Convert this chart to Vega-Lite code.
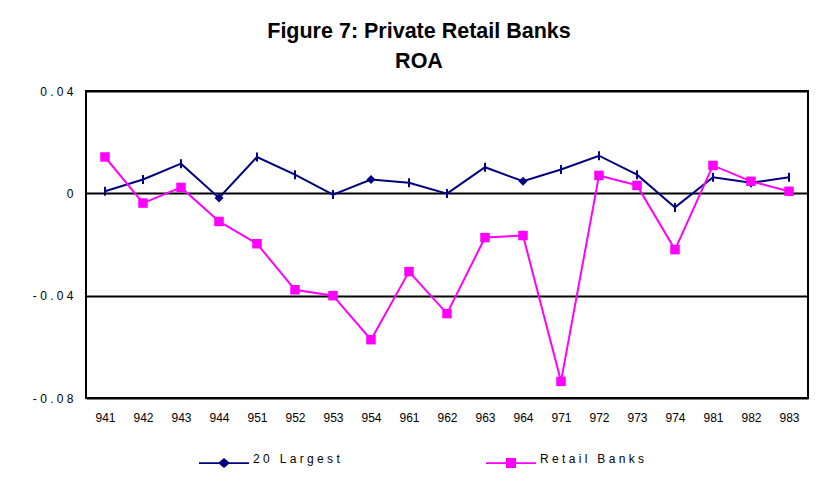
{
  "$schema": "https://vega.github.io/schema/vega-lite/v6.json",
  "width": 722,
  "height": 307,
  "autosize": "none",
  "padding": {"left": 86, "top": 91, "right": 14, "bottom": 87},
  "background": "white",
  "config": {
    "view": {"stroke": "black", "strokeWidth": 2},
    "font": "Liberation Sans"
  },
  "title": {
    "text": ["Figure 7: Private Retail Banks", "ROA"],
    "anchor": "middle",
    "frame": "group",
    "dx": -28,
    "fontSize": 21.5,
    "fontWeight": "bold",
    "font": "Liberation Sans",
    "lineHeight": 30,
    "offset": 13,
    "color": "black"
  },
  "data": {
    "values": [
      {"q": "941", "series": "20 Largest", "roa": 0.0008},
      {"q": "942", "series": "20 Largest", "roa": 0.0054},
      {"q": "943", "series": "20 Largest", "roa": 0.0116},
      {"q": "944", "series": "20 Largest", "roa": -0.0018},
      {"q": "951", "series": "20 Largest", "roa": 0.0142},
      {"q": "952", "series": "20 Largest", "roa": 0.0073},
      {"q": "953", "series": "20 Largest", "roa": -0.0005},
      {"q": "954", "series": "20 Largest", "roa": 0.0054},
      {"q": "961", "series": "20 Largest", "roa": 0.0041},
      {"q": "962", "series": "20 Largest", "roa": -0.0001},
      {"q": "963", "series": "20 Largest", "roa": 0.0102},
      {"q": "964", "series": "20 Largest", "roa": 0.0047},
      {"q": "971", "series": "20 Largest", "roa": 0.0093},
      {"q": "972", "series": "20 Largest", "roa": 0.0147},
      {"q": "973", "series": "20 Largest", "roa": 0.0073},
      {"q": "974", "series": "20 Largest", "roa": -0.0055},
      {"q": "981", "series": "20 Largest", "roa": 0.0063},
      {"q": "982", "series": "20 Largest", "roa": 0.0041},
      {"q": "983", "series": "20 Largest", "roa": 0.0063},
      {"q": "941", "series": "Retail Banks", "roa": 0.0142},
      {"q": "942", "series": "Retail Banks", "roa": -0.0038},
      {"q": "943", "series": "Retail Banks", "roa": 0.0023},
      {"q": "944", "series": "Retail Banks", "roa": -0.011},
      {"q": "951", "series": "Retail Banks", "roa": -0.0197},
      {"q": "952", "series": "Retail Banks", "roa": -0.0377},
      {"q": "953", "series": "Retail Banks", "roa": -0.040},
      {"q": "954", "series": "Retail Banks", "roa": -0.0572},
      {"q": "961", "series": "Retail Banks", "roa": -0.0306},
      {"q": "962", "series": "Retail Banks", "roa": -0.047},
      {"q": "963", "series": "Retail Banks", "roa": -0.0173},
      {"q": "964", "series": "Retail Banks", "roa": -0.0165},
      {"q": "971", "series": "Retail Banks", "roa": -0.0735},
      {"q": "972", "series": "Retail Banks", "roa": 0.0070},
      {"q": "973", "series": "Retail Banks", "roa": 0.0031},
      {"q": "974", "series": "Retail Banks", "roa": -0.022},
      {"q": "981", "series": "Retail Banks", "roa": 0.0109},
      {"q": "982", "series": "Retail Banks", "roa": 0.0047},
      {"q": "983", "series": "Retail Banks", "roa": 0.0008}
    ]
  },
  "encoding": {
    "x": {
      "field": "q",
      "type": "ordinal",
      "sort": null,
      "scale": {"type": "point", "padding": 0.5},
      "axis": {
        "title": null,
        "ticks": false,
        "domain": false,
        "grid": false,
        "labelAngle": 0,
        "labelPadding": 14,
        "labelFont": "Liberation Sans",
        "labelFontSize": 12,
        "labelColor": "black"
      }
    },
    "y": {
      "field": "roa",
      "type": "quantitative",
      "scale": {"domain": [-0.08, 0.04], "nice": false, "zero": false},
      "axis": {
        "title": null,
        "values": [-0.08, -0.04, 0, 0.04],
        "ticks": false,
        "domain": false,
        "grid": true,
        "gridColor": "black",
        "gridWidth": 2,
        "gridOpacity": 1,
        "labelPadding": 13,
        "labelFont": "Liberation Sans",
        "labelFontSize": 12,
        "labelColor": "black",
        "labelExpr": "datum.value == 0 ? '0' : (datum.value < 0 ? '- ' : '') + join(split(format(abs(datum.value), '.2f'), ''), ' ')"
      }
    }
  },
  "layer": [
    {
      "mark": {"type": "line", "strokeWidth": 2},
      "encoding": {
        "color": {
          "field": "series",
          "type": "nominal",
          "scale": {"domain": ["20 Largest", "Retail Banks"], "range": ["#000080", "#FF00FF"]},
          "legend": {
            "title": null,
            "orient": "none",
            "legendX": 113,
            "legendY": 347,
            "direction": "horizontal",
            "columnPadding": 146,
            "symbolSize": 2500,
            "labelFont": "Liberation Sans",
            "labelFontSize": 12,
            "labelColor": "black",
            "labelOffset": 4,
            "labelLimit": 300,
            "labelBaseline": "alphabetic",
            "labelExpr": "join(split(datum.label, ''), '\u00a0')",
            "encode": {
              "symbols": {
                "update": {
                  "shape": {"signal": "datum.value == '20 Largest' ? 'M-1,-0.035H1V0.035H-1Z M0,-0.2L0.24,0L0,0.2L-0.24,0Z' : 'M-1,-0.035H1V0.035H-1Z M-0.2,-0.2H0.2V0.2H-0.2Z'"},
                  "fill": {"scale": "color", "field": "value"},
                  "stroke": {"value": "transparent"},
                  "strokeWidth": {"value": 0},
                  "opacity": {"value": 1}
                }
              }
            }
          }
        }
      }
    },
    {
      "transform": [{"filter": "datum.series == '20 Largest' && indexof(['944','954','964'], datum.q) < 0"}],
      "mark": {"type": "point", "shape": "M0,-1V1", "size": 81, "stroke": "#000080", "strokeWidth": 2, "filled": false, "opacity": 1}
    },
    {
      "transform": [{"filter": "datum.series == '20 Largest' && indexof(['944','954','964'], datum.q) >= 0"}],
      "mark": {"type": "point", "shape": "diamond", "size": 80, "fill": "#000080", "filled": true, "opacity": 1}
    },
    {
      "transform": [{"filter": "datum.series == 'Retail Banks'"}],
      "mark": {"type": "point", "shape": "square", "size": 90, "fill": "#FF00FF", "filled": true, "opacity": 1}
    }
  ]
}
